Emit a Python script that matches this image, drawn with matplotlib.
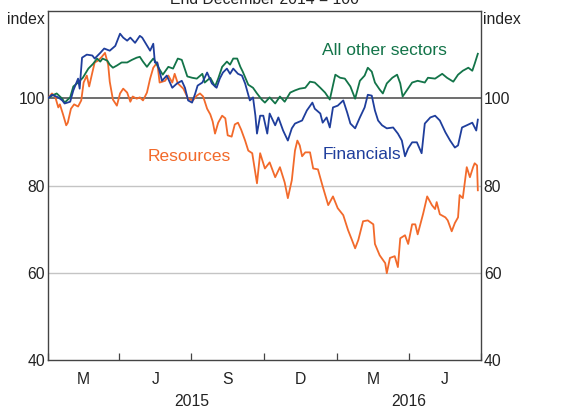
import matplotlib
matplotlib.use('Agg')
import matplotlib.pyplot as plt
import pandas as pd

plt.rcParams['font.family'] = ['Liberation Sans', 'DejaVu Sans']

# ---- data: days since 1 Jan 2015, index (end Dec 2014 = 100) ----
base_date = '2015-01-01'

fin_days = [0, 5, 13, 18, 21, 28, 32, 38, 40, 43, 49, 56, 59, 66, 71, 78, 85, 91, 95, 100,
            104, 110, 116, 119, 123, 129, 133, 135, 138, 144, 150, 157, 163, 169, 173, 177,
            182, 186, 189, 195, 201, 207, 213, 217, 221, 226, 230, 234, 240, 245, 249, 255,
            259, 262, 264, 268, 272, 277, 280, 287, 291, 297, 303, 308, 312, 321, 327, 334,
            337, 344, 347, 352, 356, 360, 366, 373, 378, 382, 388, 394, 400, 404, 409, 413,
            417, 422, 428, 436, 442, 447, 451, 455, 460, 466, 472, 476, 483, 489, 495, 502,
            508, 514, 518, 523, 529, 536, 541, 543]
fin_vals = [100.0, 100.8, 100.2, 99.5, 98.8, 99.2, 101.8, 104.5, 102.2, 109.3, 110.0, 109.8,
            109.1, 110.4, 111.4, 110.9, 112.0, 114.8, 113.9, 113.2, 113.9, 112.7, 114.3, 113.9,
            112.7, 110.9, 112.5, 108.2, 108.2, 104.0, 105.2, 102.4, 103.4, 104.0, 102.4, 99.5,
            99.0, 101.1, 102.9, 103.6, 105.9, 103.4, 102.4, 104.5, 105.9, 106.8, 105.6, 106.8,
            105.6, 105.2, 103.4, 99.5, 100.2, 96.0, 91.9, 96.0, 96.0, 91.9, 96.5, 93.8, 95.6,
            92.6, 90.3, 93.1, 94.2, 94.9, 97.2, 99.0, 97.6, 96.5, 94.4, 95.6, 93.3, 97.9, 98.3,
            99.5, 96.7, 94.2, 93.1, 95.6, 97.9, 100.8, 100.6, 97.2, 94.9, 93.8, 93.1, 93.3,
            91.9, 90.3, 86.7, 88.5, 89.9, 89.9, 87.4, 94.2, 95.6, 96.0, 94.9, 92.2, 90.3, 88.7,
            89.2, 93.3, 93.8, 94.4, 92.6, 95.1]

oth_days = [0, 5, 11, 18, 21, 28, 32, 38, 44, 51, 57, 62, 66, 69, 75, 78, 82, 87, 93, 100,
            106, 112, 116, 120, 125, 129, 133, 135, 139, 145, 152, 158, 164, 169, 176, 182,
            188, 195, 198, 205, 211, 215, 220, 226, 230, 234, 239, 243, 246, 253, 259, 264,
            270, 274, 280, 287, 293, 299, 306, 312, 318, 325, 331, 337, 344, 350, 356, 363,
            369, 375, 382, 388, 394, 400, 404, 409, 413, 419, 423, 428, 435, 441, 445, 448,
            454, 460, 467, 476, 480, 489, 498, 504, 512, 518, 524, 531, 536, 539, 543]
oth_vals = [100.0, 100.6, 101.1, 99.9, 99.0, 100.2, 102.7, 103.6, 104.7, 106.8, 107.9, 109.1,
            108.4, 109.1, 108.6, 107.7, 107.0, 107.5, 108.2, 108.2, 108.8, 109.3, 109.5, 108.4,
            107.2, 108.2, 109.1, 108.6, 107.2, 105.4, 107.2, 106.8, 109.1, 108.8, 105.0, 104.7,
            104.5, 105.6, 103.6, 104.7, 102.7, 104.5, 107.2, 108.4, 107.7, 109.1, 109.1, 107.2,
            106.1, 103.1, 102.4, 101.1, 99.7, 99.0, 100.2, 98.8, 100.4, 99.2, 101.3, 101.8,
            102.2, 102.4, 103.8, 103.6, 102.4, 101.3, 99.7, 105.4, 104.7, 104.5, 102.7, 99.9,
            104.0, 105.2, 107.0, 106.1, 103.6, 102.0, 101.1, 103.4, 104.7, 105.4, 103.4, 100.4,
            102.0, 103.6, 104.0, 103.6, 104.7, 104.5, 105.6, 104.7, 103.8, 105.4, 106.3, 107.0,
            106.3, 107.9, 110.2]

res_days = [0, 5, 9, 13, 15, 19, 23, 25, 29, 33, 38, 42, 45, 49, 52, 56, 59, 63, 68, 72, 76,
            78, 82, 87, 91, 95, 100, 104, 107, 112, 116, 120, 125, 129, 133, 138, 141, 148,
            152, 157, 160, 164, 171, 177, 183, 188, 192, 196, 201, 205, 208, 211, 215, 220,
            224, 227, 232, 236, 240, 244, 249, 253, 258, 264, 268, 274, 280, 287, 293, 299,
            303, 308, 312, 315, 318, 321, 325, 331, 335, 341, 347, 354, 360, 366, 373, 379,
            384, 388, 392, 398, 404, 411, 413, 419, 426, 428, 432, 438, 442, 445, 451, 455,
            460, 464, 467, 474, 479, 485, 489, 491, 495, 502, 505, 510, 514, 518, 520, 524,
            529, 533, 537, 539, 542, 543]
res_vals = [100.0, 101.1, 100.4, 97.9, 98.6, 96.3, 93.8, 94.4, 97.6, 98.6, 98.1, 99.5, 103.6,
            105.2, 102.7, 105.9, 108.2, 108.6, 109.5, 110.4, 107.7, 103.8, 99.7, 98.3, 101.1,
            102.2, 101.3, 99.2, 100.4, 99.9, 100.2, 99.5, 101.3, 104.5, 107.0, 108.2, 103.6,
            104.0, 105.2, 103.6, 105.6, 103.4, 102.2, 99.9, 99.5, 100.6, 101.1, 100.4, 97.6,
            96.3, 94.7, 91.9, 94.4, 96.0, 95.4, 91.5, 91.2, 94.0, 94.4, 92.8, 90.3, 88.0, 87.4,
            80.5, 87.4, 83.9, 85.3, 81.9, 84.2, 80.7, 77.1, 81.2, 88.0, 90.3, 89.2, 86.7, 87.6,
            87.6, 83.9, 83.7, 79.8, 75.5, 77.5, 74.8, 73.2, 69.8, 67.5, 65.6, 67.5, 71.8, 72.0,
            71.1, 66.6, 64.0, 62.2, 59.9, 63.4, 63.8, 61.3, 67.9, 68.6, 66.6, 71.1, 71.1, 68.8,
            73.6, 77.5, 75.5, 74.6, 76.2, 73.4, 72.7, 72.0, 69.5, 71.4, 72.7, 77.8, 77.1, 84.2,
            81.9, 84.2, 85.1, 84.6, 78.9]

y_ticks = [40, 60, 80, 100]
quarter_starts = ['2015-01-01', '2015-04-01', '2015-07-01', '2015-10-01',
                  '2016-01-01', '2016-04-01', '2016-07-01']
month_labels = ['M', 'J', 'S', 'D', 'M', 'J']
year_labels = ['2015', '2016']
year_centres = ['2015-07-01', '2016-04-01']

C_RES = '#F26A2B'
C_FIN = '#1F3E9C'
C_OTH = '#137449'


def to_dates(days):
    return pd.Timestamp(base_date) + pd.to_timedelta(days, unit='D')


W, H = 574, 408
fig = plt.figure(figsize=(W / 100, H / 100), dpi=100)
ax = fig.add_axes([48 / W, 48 / H, 433 / W, 349 / H])

for v in (60, 80):
    ax.axhline(v, color='#c4c4c4', lw=1.0, zorder=1)
ax.axhline(100, color='#555555', lw=1.2, zorder=1)

ax.plot(to_dates(res_days), res_vals, color=C_RES, lw=1.3, zorder=3)
ax.plot(to_dates(oth_days), oth_vals, color=C_OTH, lw=1.3, zorder=3)
ax.plot(to_dates(fin_days), fin_vals, color=C_FIN, lw=1.3, zorder=4)

qs = pd.to_datetime(quarter_starts)
ax.set_xlim(qs[0], qs[-1])
ax.set_ylim(40, 120)

ax.set_yticks(y_ticks)
ax.set_yticklabels([str(t) for t in y_ticks])
ax.tick_params(axis='y', length=0, pad=2, labelsize=11.3, labelleft=True,
               labelright=True, colors='#222222')

ax.set_xticks(qs)
ax.set_xticklabels([''] * len(qs))
ax.tick_params(axis='x', direction='in', length=5, width=0.9, color='#444444')

xt = ax.get_xaxis_transform()
for i, lab in enumerate(month_labels):
    mid = qs[i] + (qs[i + 1] - qs[i]) / 2
    ax.text(mid, -19 / 349, lab, transform=xt, ha='center', va='center',
            fontsize=11.3, color='#222222')
for lab, c in zip(year_labels, year_centres):
    ax.text(pd.Timestamp(c), -41.5 / 349, lab, transform=xt, ha='center', va='center',
            fontsize=11.3, color='#222222')

for s in ax.spines.values():
    s.set_color('#444444')
    s.set_linewidth(1.0)

ax.text(0.777, 0.886, 'All other sectors', transform=ax.transAxes, ha='center',
        va='center', fontsize=12.5, color=C_OTH)
ax.text(0.726, 0.590, 'Financials', transform=ax.transAxes, ha='center',
        va='center', fontsize=12.5, color=C_FIN)
ax.text(0.326, 0.582, 'Resources', transform=ax.transAxes, ha='center',
        va='center', fontsize=12.5, color=C_RES)

fig.text(26 / W, 1 - 19 / H, 'index', ha='center', va='center', fontsize=11.3,
         color='#222222')
fig.text(502 / W, 1 - 19 / H, 'index', ha='center', va='center', fontsize=11.3,
         color='#222222')
fig.text(264.5 / W, 1 - 3.5 / H, 'End December 2014 = 100', ha='center',
         va='baseline', fontsize=11.3, color='#222222')

fig.savefig('out.png', dpi=100)
